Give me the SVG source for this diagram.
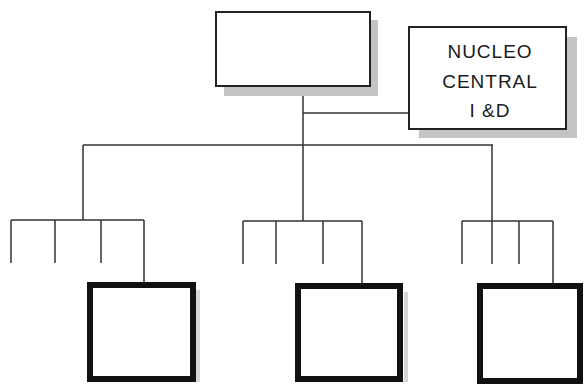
<svg xmlns="http://www.w3.org/2000/svg" width="584" height="386" viewBox="0 0 584 386">
<style>
.shadow{fill:#c4c4c4;stroke:none}
.fshadow{fill:#d6d6d6;stroke:none}
.box{fill:#fff;stroke:#222;stroke-width:2}
.thick{fill:#fff;stroke:#111;stroke-width:6}
.lines path{fill:none;stroke:#333;stroke-width:1.5}
.label{font-family:"Liberation Sans",Arial,sans-serif;font-size:19px;letter-spacing:1px;fill:#1a1a1a;text-anchor:middle}
</style>
<rect width="584" height="386" fill="#fff"/>
<g id="connectors" class="lines">
<path d="M303 86V221"/>
<path d="M303 113H409"/>
<path d="M83 145H493"/>
<path d="M83 145V220M11 220H144M11 220V263M55 220V263M101 220V263M144 220V283"/>
<path d="M243 221H362M243 221V264M276 221V264M323 221V264M362 221V284"/>
<path d="M492 145V264M462 221H553M462 221V264M519 221V264M553 221V284"/>
</g>
<g id="top">
<rect class="shadow" x="224" y="20" width="154" height="76"/>
<rect class="box" x="216" y="12" width="154" height="74"/>
</g>
<g id="nucleo">
<rect class="shadow" x="419" y="37" width="158" height="101"/>
<rect class="box" x="409" y="27" width="157" height="102"/>
<text class="label" x="490" y="58">NUCLEO</text>
<text class="label" x="490" y="88">CENTRAL</text>
<text class="label" x="490" y="117">I &amp;D</text>
</g>
<g id="unit1">
<rect class="fshadow" x="196" y="290" width="4" height="92"/>
<rect class="thick" x="90" y="285" width="103" height="94"/>
</g>
<g id="unit2">
<rect class="fshadow" x="404" y="292" width="4" height="90"/>
<rect class="thick" x="298" y="286" width="102" height="93"/>
</g>
<g id="unit3">
<rect class="thick" x="480" y="286" width="100" height="95"/>
</g>
</svg>
